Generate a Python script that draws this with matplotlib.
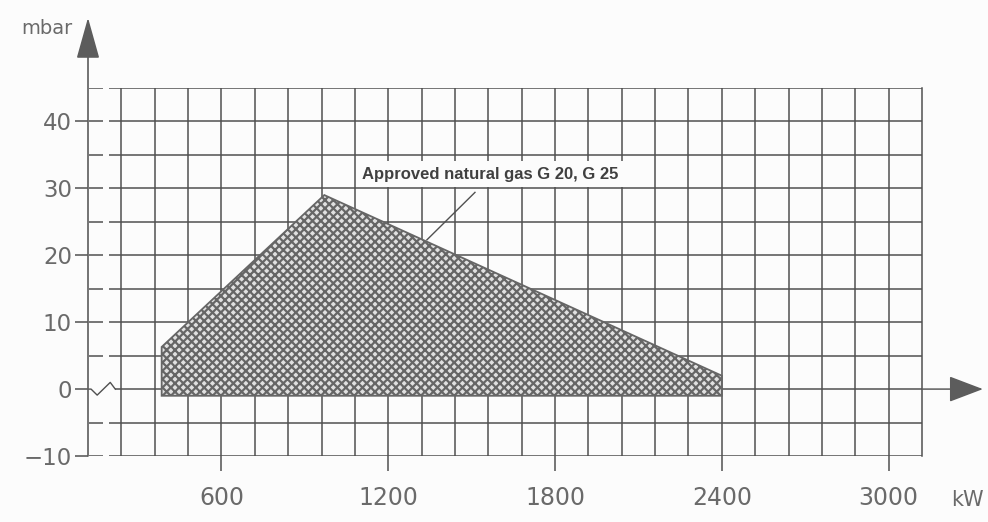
import numpy as np
import matplotlib.pyplot as plt

# burner working range (kW, mbar)
range_kw = [385, 385, 970, 2400, 2400]
range_mbar = [-1.0, 6.3, 29.0, 2.0, -1.0]

x_ticks = [600, 1200, 1800, 2400, 3000]
y_ticks = [-10, 0, 10, 20, 30, 40]
y_ticklabels = ['\u221210', '0', '10', '20', '30', '40']

gas_label = 'Approved natural gas G 20, G 25'
leader_kw = [1512, 1339]
leader_mbar = [29.4, 22.3]

bg = '#fcfcfc'
ink = '#505050'
txt = '#6a6a6a'

plt.rcParams['hatch.linewidth'] = 1.6

fig = plt.figure(figsize=(9.88, 5.22), dpi=100, facecolor=bg)
ax = fig.add_axes([88/988, 1 - 456/522, 834/988, 368/522])
ax.set_facecolor(bg)
ax.set_xlim(120, 3120)
ax.set_ylim(-10, 45)

for s in ['top', 'bottom', 'left']:
    ax.spines[s].set_visible(False)
ax.spines['right'].set_color(ink)
ax.spines['right'].set_linewidth(1.1)

# grid: vertical every 120 kW, horizontal every 5 mbar
ax.vlines(np.arange(240, 3120, 120), -10, 45, color=ink, lw=1.1, zorder=1)
for yy in np.arange(-10, 46, 5):
    if yy == 0:
        ax.hlines(0, 218, 3120, color=ink, lw=1.1, zorder=1)
        ax.plot([120, 131, 153, 200, 218], [0, 0, -0.9, 1.0, 0], color=ink, lw=1.0, zorder=1)
    else:
        ax.hlines(yy, 240, 3120, color=ink, lw=1.1, zorder=1)
        ax.hlines(yy, 123, 175, color=ink, lw=1.1, zorder=1)
        ax.hlines(yy, 197, 240, color=ink, lw=1.1, zorder=1)

# axes with arrow heads
ax.annotate('', xy=(120, 55.5), xytext=(120, -10), xycoords='data', annotation_clip=False,
            arrowprops=dict(arrowstyle='-|>,head_length=1.0,head_width=0.28', mutation_scale=26,
                            color='#5c5c5c', lw=1.2, shrinkA=0, shrinkB=0))
ax.annotate('', xy=(3339, 0), xytext=(3120, 0), xycoords='data', annotation_clip=False,
            arrowprops=dict(arrowstyle='-|>,head_length=1.0,head_width=0.38', mutation_scale=21.6,
                            color='#5c5c5c', lw=1.1, shrinkA=0, shrinkB=0))

# working range
ax.fill(range_kw, range_mbar, facecolor='#e0e0e0', edgecolor='#666666', hatch='xxxx',
        lw=1.3, zorder=3)

ax.plot(leader_kw, leader_mbar, color=ink, lw=1.0, zorder=4)
ax.text(1566, 32.1, gas_label, ha='center', va='center', fontsize=12, fontweight='bold',
        family=['Liberation Sans', 'DejaVu Sans'], color='#404040',
        bbox=dict(fc=bg, ec='none', pad=4), zorder=5)

ax.set_xticks(x_ticks)
ax.set_xticklabels([str(v) for v in x_ticks])
ax.set_yticks(y_ticks)
ax.set_yticklabels(y_ticklabels)
ax.tick_params(axis='x', direction='out', length=10.5, width=1.1, color=ink,
               labelsize=17, labelcolor=txt, pad=11)
ax.tick_params(axis='y', direction='out', length=9.5, width=1.1, color=ink,
               labelsize=16.5, labelcolor=txt, pad=2)

fig.text(47/988, 1 - 28/522, 'mbar', ha='center', va='center', fontsize=14, color=txt)
fig.text(967/988, 1 - 500/522, 'kW', ha='center', va='center', fontsize=15, color=txt)

fig.savefig('out.png', dpi=100, facecolor=bg)
